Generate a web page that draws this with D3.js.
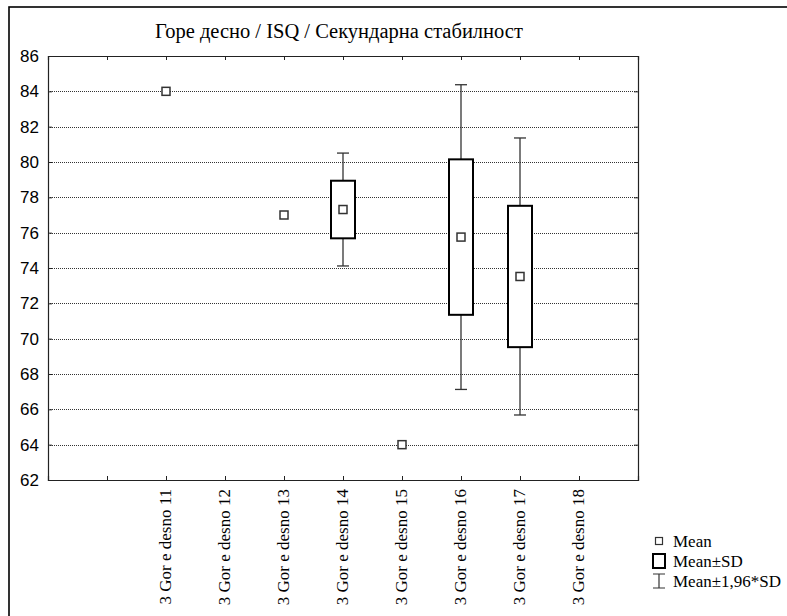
<!DOCTYPE html>
<html>
<head>
<meta charset="utf-8">
<script src="https://cdn.jsdelivr.net/npm/d3@7"></script>
<style>
  html, body { margin: 0; padding: 0; background: #fff; }
  svg { display: block; }
</style>
</head>
<body>
<div id="chart"></div>
<script>
// Data
const title = "Горе десно / ISQ / Секундарна стабилност";
const categories = [
  "3 Gor e desno 11", "3 Gor e desno 12", "3 Gor e desno 13", "3 Gor e desno 14",
  "3 Gor e desno 15", "3 Gor e desno 16", "3 Gor e desno 17", "3 Gor e desno 18"
];
const means = [84, null, 77, 77.31, 64, 75.75, 73.52, null];
const sds = [null, null, null, 1.63, null, 4.4, 4.0, null];
const yTicks = [62, 64, 66, 68, 70, 72, 74, 76, 78, 80, 82, 84, 86];
const legendLabels = ["Mean", "Mean\u00b1SD", "Mean\u00b11,96*SD"];

// Layout
const W = 787, H = 616;
const plot = { left: 48, right: 638, top: 56, bottom: 480 };
const BOX_W = 24, CAP_W = 12, MEAN_SIZE = 8;
const SERIF = "'Liberation Serif', 'Times New Roman', serif";
const SANS = "'Liberation Sans', Arial, sans-serif";

const svg = d3.select("#chart").append("svg")
  .attr("width", W).attr("height", H);

// outer frame (runs off the page on right and bottom)
svg.append("rect")
  .attr("x", 9).attr("y", 7)
  .attr("width", W + 20).attr("height", H + 20)
  .attr("fill", "none").attr("stroke", "#000").attr("stroke-width", 1.6);

const x = d3.scaleLinear().domain([0, 10]).range([plot.left, plot.right]);
const y = d3.scaleLinear().domain([62, 86]).range([plot.bottom, plot.top]);

// title
svg.append("text")
  .attr("x", 339).attr("y", 38)
  .attr("text-anchor", "middle")
  .attr("font-family", SERIF).attr("font-size", 20.5)
  .text(title);

// grid lines
svg.append("g").selectAll("line")
  .data(yTicks.filter(t => t > 62 && t < 86))
  .enter().append("line")
  .attr("x1", plot.left).attr("x2", plot.right)
  .attr("y1", d => Math.round(y(d)) + 0.5).attr("y2", d => Math.round(y(d)) + 0.5)
  .attr("stroke", "#333").attr("stroke-width", 1)
  .attr("stroke-dasharray", "1,1");

// axes with inward ticks
const tickPos = d3.range(1, 10);
svg.append("g").attr("transform", `translate(0,${plot.top})`)
  .call(d3.axisTop(x).tickValues(tickPos).tickSize(-4).tickFormat(""));
svg.append("g").attr("transform", `translate(0,${plot.bottom})`)
  .call(d3.axisBottom(x).tickValues(tickPos).tickSize(-4).tickFormat(""));
svg.append("g").attr("transform", `translate(${plot.left},0)`)
  .call(d3.axisLeft(y).tickValues(yTicks).tickSize(-4).tickPadding(9))
  .call(g => g.selectAll("text").attr("font-family", SANS).attr("font-size", 17).attr("fill", "#000"));
svg.append("g").attr("transform", `translate(${plot.right},0)`)
  .call(d3.axisRight(y).tickValues(yTicks).tickSize(-4).tickFormat(""));
svg.selectAll(".domain").attr("stroke", "#222").attr("stroke-width", 1.2);
svg.selectAll(".tick line").attr("stroke", "#222");

// x category labels (rotated)
svg.append("g").selectAll("text")
  .data(categories)
  .enter().append("text")
  .attr("transform", (d, i) => `translate(${x(i + 2) + 5},${plot.bottom + 9}) rotate(-90)`)
  .attr("text-anchor", "end")
  .attr("font-family", SERIF).attr("font-size", 17)
  .text(d => d);

// boxes and whiskers
const marks = svg.append("g");
categories.forEach((c, i) => {
  const m = means[i];
  if (m == null) return;
  const cx = x(i + 2);
  const sd = sds[i];
  if (sd != null) {
    const lo = m - 1.96 * sd, hi = m + 1.96 * sd;
    marks.append("line")
      .attr("x1", cx).attr("x2", cx).attr("y1", y(lo)).attr("y2", y(hi))
      .attr("stroke", "#333").attr("stroke-width", 1.3);
    [lo, hi].forEach(v => {
      marks.append("line")
        .attr("x1", cx - CAP_W / 2).attr("x2", cx + CAP_W / 2)
        .attr("y1", y(v)).attr("y2", y(v))
        .attr("stroke", "#333").attr("stroke-width", 1.3);
    });
    marks.append("rect")
      .attr("x", cx - BOX_W / 2).attr("width", BOX_W)
      .attr("y", y(m + sd)).attr("height", y(m - sd) - y(m + sd))
      .attr("fill", "#fff").attr("stroke", "#000").attr("stroke-width", 2);
  }
  marks.append("rect")
    .attr("x", cx - MEAN_SIZE / 2).attr("y", y(m) - MEAN_SIZE / 2)
    .attr("width", MEAN_SIZE).attr("height", MEAN_SIZE)
    .attr("fill", "#fff").attr("stroke", "#333").attr("stroke-width", 1.5);
});

// legend
const lg = svg.append("g");
const lgX = 659, lgY = [541, 561, 581];
lg.append("rect").attr("x", lgX - 3.5).attr("y", lgY[0] - 3.5)
  .attr("width", 7).attr("height", 7)
  .attr("fill", "#fff").attr("stroke", "#333").attr("stroke-width", 1.2);
lg.append("rect").attr("x", lgX - 6).attr("y", lgY[1] - 7)
  .attr("width", 12).attr("height", 14)
  .attr("fill", "#fff").attr("stroke", "#000").attr("stroke-width", 2);
lg.append("path")
  .attr("d", `M${lgX - 6},${lgY[2] - 7}H${lgX + 6}M${lgX},${lgY[2] - 7}V${lgY[2] + 7}M${lgX - 6},${lgY[2] + 7}H${lgX + 6}`)
  .attr("fill", "none").attr("stroke", "#333").attr("stroke-width", 1.2);
lg.selectAll("text").data(legendLabels).enter().append("text")
  .attr("x", 673).attr("y", (d, i) => lgY[i] + 6)
  .attr("font-family", SERIF).attr("font-size", 17)
  .text(d => d);
</script>
</body>
</html>
